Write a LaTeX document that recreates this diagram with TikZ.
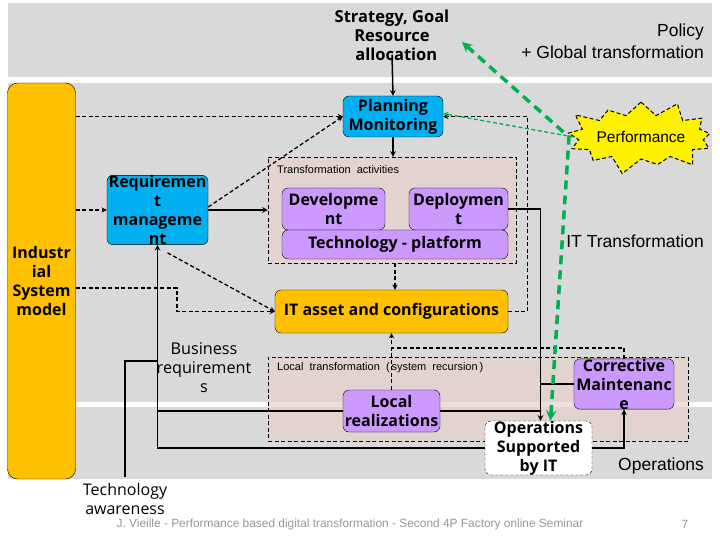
\documentclass[tikz,border=0pt]{standalone}
\usepackage{fontspec}
\setmainfont{Liberation Sans}
\newfontfamily\boxfont{Open Sans}
\usepackage{xcolor}
\usepackage{tikz}
\usetikzlibrary{shapes.symbols, calc}

\definecolor{bandgrey}{RGB}{217,217,217}
\definecolor{barorange}{RGB}{255,192,0}
\definecolor{boxblue}{RGB}{0,176,240}
\definecolor{boxpurple}{RGB}{204,153,255}
\definecolor{zonepink}{RGB}{230,209,203}
\definecolor{perfgreen}{RGB}{0,176,80}
\definecolor{footgrey}{RGB}{150,150,150}

\begin{document}
\begin{tikzpicture}[x=1pt, y=-1pt,
		blk/.style={draw, rounded corners=6pt, inner sep=0pt, align=center,
			font=\boxfont\bfseries\fontsize{16}{19}\selectfont},
		zone/.style={draw, dash pattern=on 4pt off 2.5pt, fill=zonepink, fill opacity=0.7, inner sep=0pt},
		txt/.style={align=center, inner sep=0pt, font=\fontsize{17.5}{22}\selectfont},
		solidarr/.style={-stealth, line width=1.5pt},
		dasharr/.style={-stealth, line width=1.3pt, dash pattern=on 4pt off 2.5pt}]
		\useasboundingbox (0,0) rectangle (720,540);

		% background bands
		\fill[bandgrey] (8,3) rectangle (712,77);
		\fill[bandgrey] (8,83) rectangle (712,402);
		\fill[bandgrey] (8,407) rectangle (712,479);

		% zones
		\node[zone, minimum width=248pt, minimum height=106pt] (transzone) at (392,210) {};
		\node[anchor=west, inner sep=0pt, font=\fontsize{11}{13}\selectfont] (translbl) at (277,170) {Transformation\ \ activities};
		\node[zone, minimum width=420pt, minimum height=84pt] (localzone) at (478,399) {};
		\node[anchor=west, inner sep=0pt, font=\fontsize{11}{13}\selectfont] (locallbl) at (277,368) {Local\ \ transformation\ \ (\,system\ \ recursion\,)};

		% boxes
		\node[blk, fill=barorange, rounded corners=10pt, minimum width=68pt, minimum height=396pt] (ism) at (41.5,281) {Industr\\ial\\System\\model};
		\node[blk, fill=boxblue, minimum width=100pt, minimum height=41pt] (plan) at (393,116.5) {Planning\\Monitoring};
		\node[blk, fill=boxblue, minimum width=101pt, minimum height=44pt] (req) at (157.5,210) {Requiremen\\t\\manageme\\nt};
		\node[blk, fill=boxpurple, minimum width=103pt, minimum height=42pt] (dev) at (333.5,209) {Developme\\nt};
		\node[blk, fill=boxpurple, minimum width=99pt, minimum height=42pt] (dep) at (458.5,209) {Deploymen\\t};
		\node[blk, fill=boxpurple, minimum width=226pt, minimum height=29pt] (tech) at (395,244.5) {Technology - platform};
		\node[blk, fill=barorange, minimum width=233pt, minimum height=43pt] (itasset) at (391.5,311.5) {IT asset and configurations};
		\node[blk, fill=boxpurple, minimum width=97pt, minimum height=42pt] (local) at (391.5,411) {Local\\realizations};
		\node[blk, fill=boxpurple, minimum width=100pt, minimum height=44pt] (corr) at (624,384) {Corrective\\Maintenanc\\e};
		\node[blk, fill=white, dash pattern=on 3pt off 2pt, minimum width=107pt, minimum height=40pt] (ops) at (538.5,448) {Operations\\Supported\\by IT};
		\node[starburst, fill=yellow, draw, dash pattern=on 4pt off 2.5pt, line width=1pt, inner sep=0pt, minimum width=124pt, minimum height=80pt,
			starburst points=13, starburst point height=18pt, font=\fontsize{15.5}{18}\selectfont] (perf) at (641,137) {Performance};

		% texts
		\node[txt, font=\boxfont\bfseries\fontsize{16.5}{19}\selectfont] (strat) at (392,35) {Strategy, Goal\\Resource\\\ \ allocation};
		\node[txt, anchor=east, align=right] (policy) at (704,41) {Policy\\+ Global transformation};
		\node[txt, anchor=east] (ittrans) at (704,241) {IT Transformation};
		\node[txt, anchor=east] (opslbl) at (704,466) {Operations};
		\node[txt, font=\boxfont\fontsize{16.2}{19}\selectfont] (busreq) at (204,368) {Business\\requirement\\s};
		\node[txt, font=\boxfont\fontsize{16}{18.5}\selectfont] (techaw) at (125,499) {Technology\\awareness};
		\node[inner sep=0pt, text=footgrey, font=\fontsize{11.9}{13}\selectfont] (footer) at (350,524) {J. Vieille - Performance based digital transformation - Second 4P Factory online Seminar};
		\node[inner sep=0pt, text=footgrey, font=\fontsize{11.9}{13}\selectfont] (pagenum) at (685,524) {7};

		% solid connectors
		\draw[solidarr] ($(strat.south)+(0,-6)$) -- (plan.north);
		\draw[solidarr] (plan.south) -- (plan.south |- transzone.north);
		\draw[solidarr] (req.east) -- (req.east -| transzone.west);
		\draw[solidarr] (dep.east) -| ([xshift=2pt]ops.north);
		\draw[line width=1.5pt] (corr.west) -- ++(-33,0);
		\draw[line width=1.5pt] (local.east) -- ++(101,0);
		\draw[solidarr] (ops.east) -| (corr.south);
		\draw[solidarr] (ops.west) -| (req.south);
		\draw[line width=1.5pt] (local.west) -- (local.west -| req.south);
		\draw[line width=1.5pt] ($(techaw.north)+(0,-6)$) |- (req.south |- 0,361);

		% dashed connectors
		\draw[dasharr] (ism.east |- plan.west) -- (plan.west);
		\draw[dasharr] (ism.east |- req.west) -- (req.west);
		\draw[dasharr] ([yshift=3pt]req.east) -- (plan.west);
		\draw[dasharr] ($(req.south)+(10,8)$) -- (itasset.west);
		\draw[dasharr] (ism.east |- 0,288) -| (177,311.5) -- (itasset.west);
		\draw[dasharr] (tech.south |- transzone.south) -- (tech.south |- itasset.north);
		\draw[dasharr] (itasset.east) -- ++(19,0) |- (plan.east);
		\draw[dasharr] (local.north) -- (itasset.south);
		\draw[line width=1.3pt, dash pattern=on 4pt off 2.5pt] (corr.north) |- (itasset.south |- 0,348);

		% performance feedback
		\coordinate (perfbend) at (569,137);
		\coordinate (stratend) at (462,42);
		\draw[-stealth, perfgreen, line width=1.3pt, dash pattern=on 4pt off 2.5pt] (perf.west) -- ([yshift=3pt]plan.east);
		\draw[stealth-stealth, perfgreen, line width=3.5pt, dash pattern=on 9pt off 6pt] (stratend) -- (perfbend) -- ([xshift=12pt]ops.north);
	\end{tikzpicture}
\end{document}
